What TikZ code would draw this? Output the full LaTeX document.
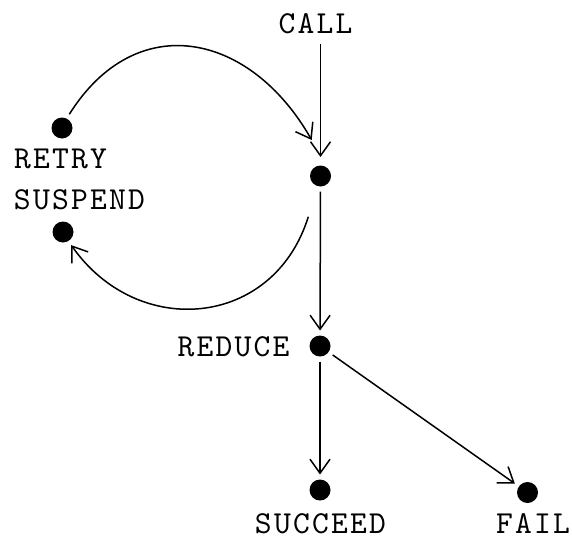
\documentclass[tikz,border=0pt]{standalone}
\usepackage{fontspec}
\usetikzlibrary{arrows.meta}
\newfontfamily\portface{lmmono10-regular}[Extension=.otf, LetterSpace=7]
\tikzset{
  dot/.style={circle, fill=black, minimum size=21pt, inner sep=0pt, outer sep=5pt},
  lbl/.style={font=\portface\fontsize{32}{36}\selectfont, inner sep=0pt, anchor=base},
  arr/.style={line width=1.5pt, -{Straight Barb[length=14pt,width=20pt,line width=1.5pt]}},
}
\begin{document}
\begin{tikzpicture}[x=1pt,y=-1pt]
  \path[use as bounding box] (0,0) rectangle (572,538);

  % states
  \node[dot] (retry)   at (62,128)    {};
  \node[dot] (c)       at (320.5,176) {};
  \node[dot] (suspend) at (63,232)    {};
  \node[dot] (reduce)  at (320,346)   {};
  \node[dot] (succeed) at (320,490)   {};
  \node[dot] (fail)    at (527.5,492.5) {};

  % port names
  \node[lbl] (call)     at (315.5,33)  {CALL};
  \node[lbl] (lretry)   at (60.5,168.5)  {RETRY};
  \node[lbl] (lsuspend) at (79.5,209.5)  {SUSPEND};
  \node[lbl] (lreduce)  at (233.5,356.5) {REDUCE};
  \node[lbl] (lsucceed) at (320.5,533.5) {SUCCEED};
  \node[lbl] (lfail)    at (533,533.5)   {FAIL};

  % loose ends of the two loops
  \coordinate (cin)  at (311.7,140);
  \coordinate (cout) at (308.3,216.7);

  % straight transitions
  \draw[arr, shorten <=10pt, shorten >=3.5pt] (c |- call.south) -- (c);
  \draw[arr] (c) -- (reduce);
  \draw[arr] (reduce) -- (succeed);
  \draw[arr] (reduce) -- (fail);

  % retry and suspend loops
  \draw[arr] (retry.62) .. controls (136,8) and (250,32) .. (cin);
  \draw[arr] (cout) .. controls (273.8,328) and (137.9,340) .. (suspend.-58);
\end{tikzpicture}
\end{document}
